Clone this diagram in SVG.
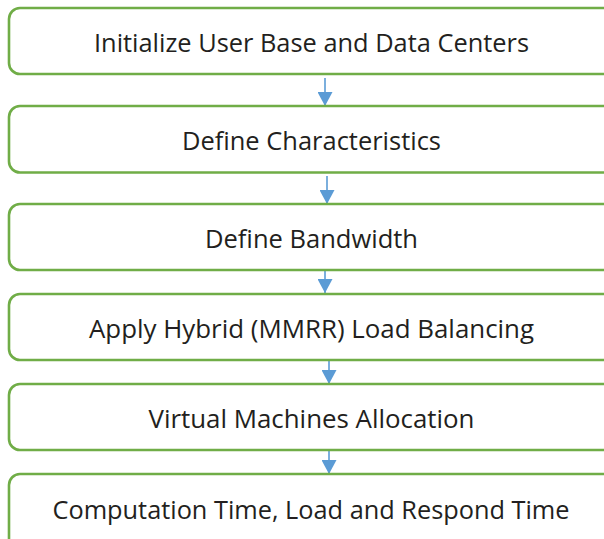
<svg xmlns="http://www.w3.org/2000/svg" width="604" height="539" viewBox="0 0 604 539">
  <style>
    .box { fill: #ffffff; stroke: #70AD47; stroke-width: 2.6; }
    .lbl { font-family: "Open Sans", "Liberation Sans", sans-serif; font-size: 25.5px; fill: #231F20; text-anchor: middle; }
    .arr { stroke: #5B9BD5; stroke-width: 1.6; fill: none; marker-end: url(#ah); }
  </style>
  <defs>
    <marker id="ah" markerUnits="userSpaceOnUse" markerWidth="15" markerHeight="15" refX="14" refY="7.5" orient="auto">
      <path d="M0,0 L14,7.5 L0,15 z" fill="#5B9BD5"/>
    </marker>
  </defs>
  <rect width="604" height="539" fill="#ffffff"/>
  <g id="connectors">
    <line class="arr" x1="325" y1="78" x2="325" y2="106"/>
    <line class="arr" x1="327" y1="176" x2="327" y2="204"/>
    <line class="arr" x1="325" y1="262" x2="325" y2="293"/>
    <line class="arr" x1="329" y1="354" x2="329" y2="384"/>
    <line class="arr" x1="329" y1="443" x2="329" y2="474"/>
  </g>
  <g id="n1">
    <rect class="box" x="9" y="8" width="620" height="66" rx="11"/>
    <text class="lbl" x="311.5" y="51.5" textLength="435" lengthAdjust="spacingAndGlyphs">Initialize User Base and Data Centers</text>
  </g>
  <g id="n2">
    <rect class="box" x="9" y="106" width="620" height="66.5" rx="11"/>
    <text class="lbl" x="311.5" y="149.5" textLength="259" lengthAdjust="spacingAndGlyphs">Define Characteristics</text>
  </g>
  <g id="n3">
    <rect class="box" x="9" y="204" width="620" height="66" rx="11"/>
    <text class="lbl" x="311.5" y="247.5" textLength="213" lengthAdjust="spacingAndGlyphs">Define Bandwidth</text>
  </g>
  <g id="n4">
    <rect class="box" x="9" y="294" width="620" height="66" rx="11"/>
    <text class="lbl" x="311.5" y="337.5" textLength="445" lengthAdjust="spacingAndGlyphs">Apply Hybrid (MMRR) Load Balancing</text>
  </g>
  <g id="n5">
    <rect class="box" x="9" y="384" width="620" height="66" rx="11"/>
    <text class="lbl" x="311.5" y="427.5" textLength="326" lengthAdjust="spacingAndGlyphs">Virtual Machines Allocation</text>
  </g>
  <g id="n6">
    <rect class="box" x="9" y="474" width="620" height="80" rx="11"/>
    <text class="lbl" x="311" y="518.5" textLength="517" lengthAdjust="spacingAndGlyphs">Computation Time, Load and Respond Time</text>
  </g>
</svg>
